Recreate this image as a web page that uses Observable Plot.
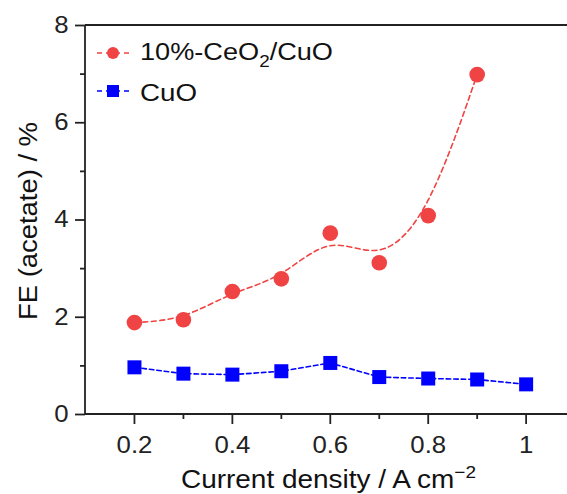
<!DOCTYPE html>
<html>
<head>
<meta charset="utf-8">
<script src="https://cdn.jsdelivr.net/npm/d3@7"></script>
<script src="https://cdn.jsdelivr.net/npm/@observablehq/plot@0.6"></script>
<style>
  html, body { margin: 0; padding: 0; background: #fff; }
  #chart { width: 567px; height: 494px; }
</style>
</head>
<body>
<div id="chart"></div>
<script>
// ---- data ----
const ceoX = [0.2, 0.3, 0.4, 0.5, 0.6, 0.7, 0.8, 0.9];
const ceoFE = [1.89, 1.95, 2.53, 2.79, 3.73, 3.12, 4.09, 6.99];
const cuoX = [0.2, 0.3, 0.4, 0.5, 0.6, 0.7, 0.8, 0.9, 1.0];
const cuoFE = [0.97, 0.84, 0.82, 0.89, 1.06, 0.77, 0.74, 0.72, 0.62];
const xMajor = [0.2, 0.4, 0.6, 0.8, 1.0];
const xTickLabels = ["0.2", "0.4", "0.6", "0.8", "1"];
const xMinor = [0.3, 0.5, 0.7, 0.9];
const yMajor = [0, 2, 4, 6, 8];
const yTickLabels = ["0", "2", "4", "6", "8"];
const yMinor = [1, 3, 5, 7];
const xDomain = [0.1, 1.0845];
const yDomain = [0, 8];
const seriesNames = ["10%-CeO2/CuO", "CuO"];

const RED = "#f04343";
const BLUE = "#0000ff";
const AX = "#222";

const ceo = ceoX.map((x, i) => ({x, y: ceoFE[i]}));
const cuo = cuoX.map((x, i) => ({x, y: cuoFE[i]}));

const plot = Plot.plot({
  width: 567,
  height: 494,
  marginLeft: 85,
  marginRight: 0,
  marginTop: 25,
  marginBottom: 80,
  style: {fontFamily: "'Liberation Sans', Arial, sans-serif", fontSize: "23px", color: AX, background: "#fff", overflow: "visible"},
  x: {domain: xDomain},
  y: {domain: yDomain},
  marks: [
    Plot.axisX({ticks: xMajor, tickSize: 10, tickPadding: 12, strokeWidth: 1.8, tickFormat: (d) => xTickLabels[xMajor.indexOf(d)], label: null}),
    Plot.axisX({ticks: xMinor, tickSize: 5, strokeWidth: 1.8, tickFormat: () => "", label: null}),
    Plot.axisY({ticks: yMajor, tickSize: 10, tickPadding: 7, strokeWidth: 1.8, tickFormat: (d) => yTickLabels[yMajor.indexOf(d)], label: null}),
    Plot.axisY({ticks: yMinor, tickSize: 5, strokeWidth: 1.8, tickFormat: () => "", label: null}),
    Plot.line(ceo, {x: "x", y: "y", curve: "basis", stroke: RED, strokeWidth: 1.6, strokeDasharray: "5,3.5"}),
    Plot.line(cuo, {x: "x", y: "y", stroke: BLUE, strokeWidth: 1.6, strokeDasharray: "4.5,3"}),
    Plot.dot(ceo, {x: "x", y: "y", r: 7.8, fill: RED, stroke: "none", symbol: "circle"}),
    Plot.dot(cuo, {x: "x", y: "y", r: 7.9, fill: BLUE, stroke: "none", symbol: "square"})
  ]
});

document.getElementById("chart").appendChild(plot);
const svg = d3.select(plot);

// frame lines (left, bottom, top) placed through the plot's own scales
const sx = plot.scale("x"), sy = plot.scale("y");
const fx = d3.scaleLinear(sx.domain, sx.range);
const fy = d3.scaleLinear(sy.domain, sy.range);
const frame = svg.append("g").attr("stroke", AX).attr("stroke-width", 1.8).attr("fill", "none");
frame.append("line").attr("x1", fx(xDomain[0])).attr("x2", fx(xDomain[0])).attr("y1", fy(yDomain[1])).attr("y2", fy(yDomain[0]));
frame.append("line").attr("x1", fx(xDomain[0])).attr("x2", fx(xDomain[1])).attr("y1", fy(yDomain[0])).attr("y2", fy(yDomain[0]));
frame.append("line").attr("x1", fx(xDomain[0])).attr("x2", fx(xDomain[1])).attr("y1", fy(yDomain[1])).attr("y2", fy(yDomain[1]));

// stretch tick labels slightly to match the reference's wide lettering
svg.selectAll('g[aria-label="x-axis tick label"] text, g[aria-label="y-axis tick label"] text').each(function() {
  const L = this.getComputedTextLength();
  if (L > 0) {
    this.setAttribute("textLength", (L * 1.12).toFixed(2));
    this.setAttribute("lengthAdjust", "spacingAndGlyphs");
  }
});

const font = "'Liberation Sans', Arial, sans-serif";

// axis titles
const xt = svg.append("text")
  .attr("x", 181).attr("y", 488).attr("text-anchor", "start")
  .attr("font-family", font).attr("font-size", 25).attr("fill", "#111");
xt.append("tspan").text("Current density / A cm");
xt.append("tspan").attr("dy", -10).attr("font-size", 17).text("\u22122");
xt.attr("textLength", 295).attr("lengthAdjust", "spacingAndGlyphs");

svg.append("text")
  .attr("transform", "translate(37,221) rotate(-90)")
  .attr("text-anchor", "middle")
  .attr("font-family", font).attr("font-size", 25).attr("fill", "#111")
  .attr("textLength", 198).attr("lengthAdjust", "spacingAndGlyphs")
  .text("FE (acetate) / %");

// legend
const lg = svg.append("g").attr("text-anchor", "start");
lg.append("line").attr("x1", 97).attr("x2", 129).attr("y1", 53).attr("y2", 53)
  .attr("stroke", RED).attr("stroke-width", 1.6).attr("stroke-dasharray", "5,4");
lg.append("circle").attr("cx", 113).attr("cy", 53).attr("r", 6).attr("fill", RED);
const t1 = lg.append("text").attr("x", 140).attr("y", 60).attr("text-anchor", "start")
  .attr("font-family", font).attr("font-size", 23).attr("fill", "#111");
t1.append("tspan").text("10%-CeO");
t1.append("tspan").attr("dy", 7).attr("font-size", 16).text("2");
t1.append("tspan").attr("dy", -7).text("/CuO");
t1.attr("textLength", 193).attr("lengthAdjust", "spacingAndGlyphs");

lg.append("line").attr("x1", 97).attr("x2", 129).attr("y1", 91).attr("y2", 91)
  .attr("stroke", BLUE).attr("stroke-width", 1.6).attr("stroke-dasharray", "5,4");
lg.append("rect").attr("x", 107).attr("y", 85).attr("width", 12).attr("height", 12).attr("fill", BLUE);
lg.append("text").attr("x", 140).attr("y", 101).attr("text-anchor", "start")
  .attr("font-family", font).attr("font-size", 23).attr("fill", "#111")
  .attr("textLength", 57).attr("lengthAdjust", "spacingAndGlyphs")
  .text(seriesNames[1]);
</script>
</body>
</html>
